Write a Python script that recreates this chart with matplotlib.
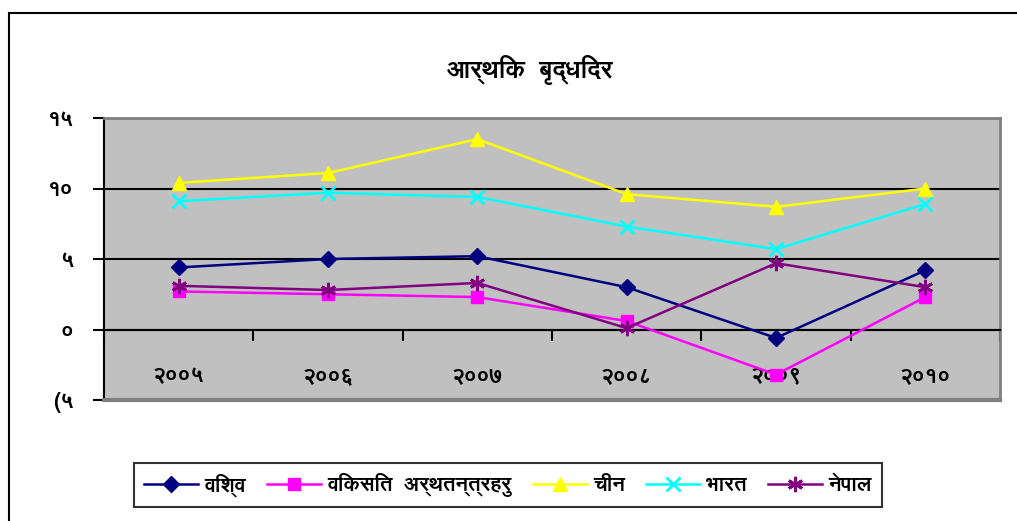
import matplotlib
matplotlib.use("Agg")
import matplotlib.pyplot as plt
from matplotlib import font_manager
from matplotlib.ft2font import FT2Font
from matplotlib.patches import Rectangle
import numpy as np

# ---------------- data ----------------
years = ["२००५", "२००६", "२००७", "२००८", "२००९", "२०१०"]
world = [4.4, 5.0, 5.2, 3.0, -0.6, 4.2]
developed = [2.7, 2.5, 2.3, 0.6, -3.2, 2.3]
china = [10.4, 11.1, 13.5, 9.6, 8.7, 10.0]
india = [9.1, 9.7, 9.4, 7.3, 5.7, 8.9]
nepal = [3.1, 2.8, 3.3, 0.1, 4.7, 3.0]
series_names = ["विश्व", "विकसित  अर्थतन्त्रहरु", "चीन", "भारत", "नेपाल"]
y_ticks = [-5, 0, 5, 10, 15]
y_tick_labels = ["(५", "०", "५", "१०", "१५"]
title = "आर्थिक  बृद्धिदर"

# ---------------- font ----------------
names = {f.name for f in font_manager.fontManager.ttflist}
deva = None
for pref in ["FreeSans", "Amiko", "Noto Sans Devanagari"]:
    if pref in names:
        deva = pref
        break
if deva is None:
    for f in font_manager.fontManager.ttflist:
        try:
            if 0x0915 in FT2Font(f.fname).get_charmap():
                deva = f.name
                break
        except Exception:
            pass
plt.rcParams["font.family"] = [deva, "DejaVu Sans"] if deva else ["DejaVu Sans"]
plt.rcParams["font.weight"] = "bold"

fig = plt.figure(figsize=(10.17, 5.21), dpi=100)
ax = fig.add_axes([104 / 1017, 1 - 400 / 521, 896 / 1017, 282 / 521])
ax.set_facecolor("#C0C0C0")

x = np.arange(len(years))
styles = [
    (world, "#000080", "D", 8),
    (developed, "#FF00FF", "s", 8.5),
    (china, "#FFFF00", "^", 10),
    (india, "#00FFFF", "x", 10),
    (nepal, "#800080", (6, 2, 0), 11),
]
for (vals, col, mk, ms), name in zip(styles, series_names):
    ax.plot(x, vals, color=col, lw=1.8, marker=mk, markersize=ms,
            markeredgewidth=2 if (mk == "x" or isinstance(mk, tuple)) else 1,
            markerfacecolor=col, markeredgecolor=col, label=name, zorder=4)

ax.set_xlim(-0.5, len(years) - 0.5)
ax.set_ylim(-5, 15)

# y axis
ax.set_yticks(y_ticks)
ax.set_yticklabels(y_tick_labels, fontsize=16, fontweight="bold")
ax.tick_params(axis="y", length=8, width=1.5, pad=14, direction="out")
ax.set_axisbelow(True)
ax.grid(axis="y", color="black", lw=1.5)

# x axis at zero
ax.spines["bottom"].set_position(("data", 0))
ax.spines["bottom"].set_linewidth(1.5)
ax.set_xticks(np.arange(-0.5, len(years), 1.0))
ax.set_xticklabels([])
ax.set_xticks(x, minor=True)
ax.set_xticklabels(years, minor=True, fontsize=16, fontweight="bold")
ax.tick_params(axis="x", which="major", length=8, width=1.5, direction="out")
ax.tick_params(axis="x", which="minor", length=0, pad=26)

ax.spines["left"].set_linewidth(1.5)
for s in ("top", "right"):
    ax.spines[s].set_color("#808080")
    ax.spines[s].set_linewidth(2)
ax.axhline(-5, color="#808080", lw=3, clip_on=False, zorder=3)

fig.text(530 / 1017, 1 - 70 / 521, title, ha="center", va="center",
         fontsize=18, fontweight="bold")

# outer chart frame (top + left visible)
fig.patches.append(Rectangle((9 / 1017, -0.1), 1.1, 1 - 13 / 521 + 0.1,
                             transform=fig.transFigure, fill=False,
                             edgecolor="black", lw=1.5))

leg = fig.legend(loc="center", bbox_to_anchor=(508 / 1017, 1 - 485 / 521),
                 ncol=5, frameon=True, fancybox=False, edgecolor="black",
                 prop={"size": 15, "weight": "bold"}, handlelength=2.6,
                 handletextpad=0.3, columnspacing=1.0, borderpad=0.5)
leg.get_frame().set_linewidth(1.5)

fig.savefig("out.png", dpi=100)
